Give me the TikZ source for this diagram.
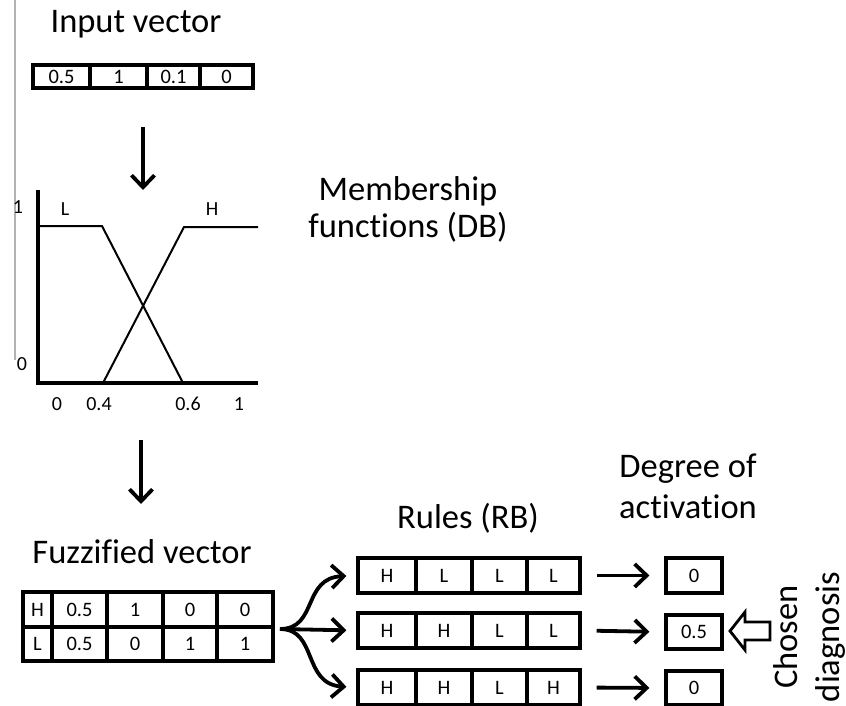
\documentclass[tikz,border=0pt]{standalone}
\usepackage{fontspec}
\setmainfont[Ligatures={NoCommon}]{Carlito}
\usetikzlibrary{arrows.meta}

\begin{document}
\begin{tikzpicture}[x=1pt,y=-1pt,
  bigtext/.style={font=\fontsize{34.5}{41}\selectfont, inner sep=0pt},
  small/.style={font=\fontsize{20}{23}\selectfont, inner sep=0pt},
  cell/.style={draw, line width=3.2pt, inner sep=0pt, font=\fontsize{20.5}{23}\selectfont},
  flow/.style={line width=3.8pt, -{Straight Barb[length=12pt,width=23pt]}},
  axisline/.style={line width=4.4pt},
  mfline/.style={line width=2pt},
]
\useasboundingbox (0,0) rectangle (846,706);

% thin grey rule at the left edge
\draw[gray!60, line width=1.6pt] (15,0) -- (15,360);

% ---- input vector ----
\node[bigtext, anchor=base] (title-in) at (136,33) {Input vector};
\node[cell, minimum width=57pt, minimum height=23pt] (iv1) at (61.5,76.5) {0.5};
\node[cell, minimum width=57pt, minimum height=23pt] (iv2) at (118.5,76.5) {1};
\node[cell, minimum width=53pt, minimum height=23pt] (iv3) at (173.5,76.5) {0.1};
\node[cell, minimum width=53pt, minimum height=23pt] (iv4) at (226.5,76.5) {0};

\coordinate (d1s) at (143,127);
\coordinate (d1e) at (143,190);
\draw[flow] (d1s) -- (d1e);

% ---- membership functions ----
\draw[axisline] (38,190) -- (38,385);
\draw[axisline] (36,383) -- (258,383);
\draw[mfline] (40,226) -- (102,226) -- (183,383);
\draw[mfline] (103,383) -- (184,227) -- (258,227);
\node[small] (lbl-L) at (65,209) {L};
\node[small] (lbl-H) at (212,209) {H};
\node[small] (y1) at (18,207) {1};
\node[small] (y0) at (22,364) {0};
\node[small] (x0) at (57,404) {0};
\node[small] (x04) at (99,404) {0.4};
\node[small] (x06) at (188,404) {0.6};
\node[small] (x1) at (239,404) {1};

\node[bigtext, anchor=base] (mf1) at (408,200) {Membership};
\node[bigtext, anchor=base] (mf2) at (408,237) {functions (DB)};

\coordinate (d2s) at (141,440);
\coordinate (d2e) at (141,504);
\draw[flow] (d2s) -- (d2e);

% ---- fuzzified vector ----
\node[bigtext, anchor=base] (title-fz) at (142,563) {Fuzzified vector};
\foreach \r/\y/\h/\a/\b/\c/\d/\e in {1/609.5/35/H/0.5/1/0/0, 2/644/34/L/0.5/0/1/1}{
  \node[cell, minimum width=29pt, minimum height=\h pt] (fz\r a) at (37.5,\y) {\a};
  \node[cell, minimum width=55pt, minimum height=\h pt] (fz\r b) at (79.5,\y) {\b};
  \node[cell, minimum width=56pt, minimum height=\h pt] (fz\r c) at (135,\y) {\c};
  \node[cell, minimum width=54pt, minimum height=\h pt] (fz\r d) at (190,\y) {\d};
  \node[cell, minimum width=56pt, minimum height=\h pt] (fz\r e) at (245,\y) {\e};
}
\coordinate (fork) at (280,629);

% ---- rules ----
\node[bigtext, anchor=base] (title-rb) at (468,528) {Rules (RB)};
\foreach \r/\y/\a/\b/\c/\d in {1/575.5/H/L/L/L, 2/630.5/H/H/L/L, 3/687.5/H/H/L/H}{
  \node[cell, minimum width=58pt, minimum height=35pt] (r\r a) at (387,\y) {\a};
  \node[cell, minimum width=56pt, minimum height=35pt] (r\r b) at (444,\y) {\b};
  \node[cell, minimum width=55pt, minimum height=35pt] (r\r c) at (499.5,\y) {\c};
  \node[cell, minimum width=53pt, minimum height=35pt] (r\r d) at (553.5,\y) {\d};
}

% branching arrows from the fuzzified vector to the rules
\draw[flow, shorten >=10pt] (fork) .. controls (318,629) and (302,578) .. (r1a.west);
\draw[flow, shorten >=10pt] (fork) -- (r2a.west);
\draw[flow, shorten >=10pt] (fork) .. controls (318,629) and (302,684) .. (r3a.west);

% ---- degree of activation ----
\node[bigtext, anchor=base] (doa1) at (688,477) {Degree of};
\node[bigtext, anchor=base] (doa2) at (688,518) {activation};
\node[cell, minimum width=56pt, minimum height=35pt] (g1) at (694,575.5) {0};
\node[cell, minimum width=56pt, minimum height=34pt] (g2) at (694,632) {0.5};
\node[cell, minimum width=56pt, minimum height=34pt] (g3) at (694,688) {0};

\foreach \r in {1,2,3}{
  \draw[flow, shorten <=15pt, shorten >=15pt] (r\r d.east) -- (g\r.west);
}

% hollow arrow pointing at the chosen diagnosis
\draw[line width=2.8pt, line join=miter, fill=white]
  (730,631) -- (745,612) -- (745,622) -- (770,622) -- (770,640)
  -- (745,640) -- (745,650) -- cycle;
\node[bigtext, rotate=90, align=center, font=\fontsize{34.5}{42}\selectfont]
  (chosen) at (809,637) {Chosen\\diagnosis};
\end{tikzpicture}
\end{document}
